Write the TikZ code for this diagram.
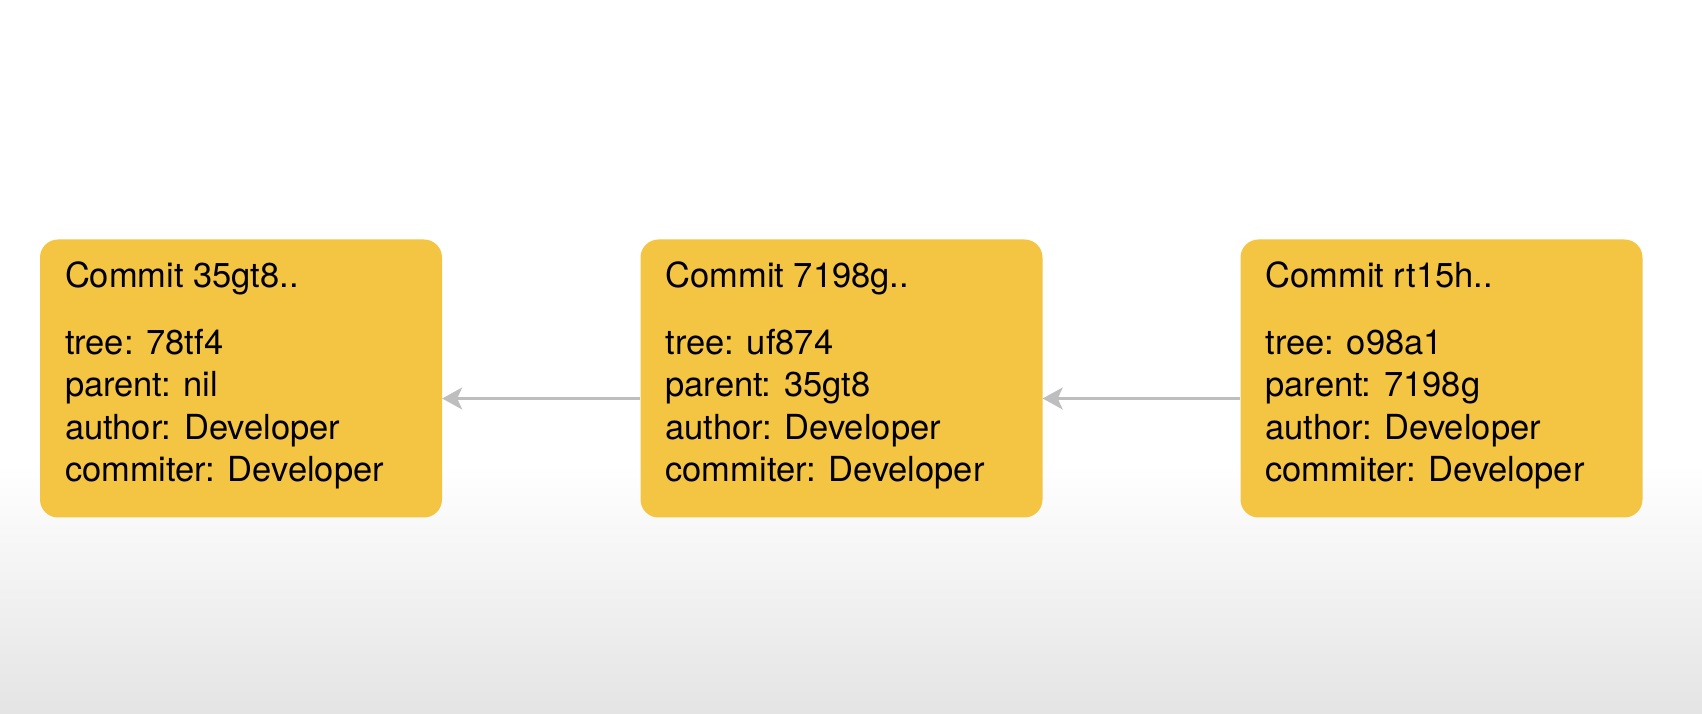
\documentclass[tikz,border=0pt]{standalone}
\usepackage{fontspec}
\setmainfont{TeX Gyre Heros}
\usetikzlibrary{arrows.meta}
\definecolor{boxyellow}{RGB}{244,196,67}
\definecolor{arrowgray}{RGB}{190,190,190}
\definecolor{bggray}{RGB}{228,228,228}
\tikzset{
  commitbox/.style={fill=boxyellow, rounded corners=18pt, minimum width=402pt, minimum height=278pt, inner sep=0pt},
  txt/.style={anchor=base west, inner sep=0pt, font=\fontsize{34.5}{40}\selectfont},
  link/.style={draw=arrowgray, line width=2.2pt, -{Stealth[length=20pt,width=22pt,inset=5pt]}}
}
\newcommand\commitcontent[6]{%
  \node[txt] (#1-t) at ([xshift=25pt,yshift=-48pt]#1.north west) {#2};
  \node[txt] (#1-a) at ([xshift=25pt,yshift=-115pt]#1.north west) {#3};
  \node[txt] (#1-b) at ([xshift=25pt,yshift=-157.5pt]#1.north west) {#4};
  \node[txt] (#1-c) at ([xshift=25pt,yshift=-200pt]#1.north west) {#5};
  \node[txt] (#1-d) at ([xshift=25pt,yshift=-242.5pt]#1.north west) {#6};
}
\begin{document}
\begin{tikzpicture}[x=1pt,y=1pt]
  \useasboundingbox (0,0) rectangle (1702,714);
  \fill[white] (0,0) rectangle (1702,714);
  \shade[top color=white, bottom color=bggray] (0,0) rectangle (1702,250);
  \node[commitbox] (b1) at (241,335.5) {};
  \node[commitbox] (b2) at (841.5,335.5) {};
  \node[commitbox] (b3) at (1441.5,335.5) {};
  \commitcontent{b1}{Commit 35gt8..}{tree: 78tf4}{parent: nil}{author: Developer}{commiter: Developer}
  \commitcontent{b2}{Commit 7198g..}{tree: uf874}{parent: 35gt8}{author: Developer}{commiter: Developer}
  \commitcontent{b3}{Commit rt15h..}{tree: o98a1}{parent: 7198g}{author: Developer}{commiter: Developer}
  \draw[link] ([yshift=-20pt]b2.west) -- ([yshift=-20pt]b1.east);
  \draw[link] ([yshift=-20pt]b3.west) -- ([yshift=-20pt]b2.east);
\end{tikzpicture}
\end{document}
